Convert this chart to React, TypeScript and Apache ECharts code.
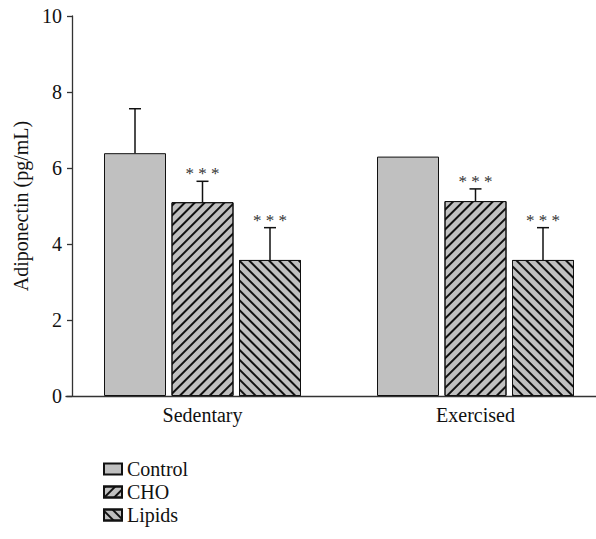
import React, { useEffect, useRef } from 'react';
import * as echarts from 'echarts';

const categories = ['Sedentary', 'Exercised'];
const seriesNames = ['Control', 'CHO', 'Lipids'];
const controlMeans = [6.39, 6.3];
const controlErr = [1.17, 0];
const choMeans = [5.1, 5.13];
const choErr = [0.55, 0.32];
const lipidsMeans = [3.58, 3.58];
const lipidsErr = [0.85, 0.85];
const controlMarks = ['', ''];
const choMarks = ['***', '***'];
const lipidsMarks = ['***', '***'];
const yMin = 0;
const yMax = 10;
const yStep = 2;

const FONT = "'Liberation Serif', 'Times New Roman', serif";
const BAR_W = 62;
const BAR_GAP = 5.5;
const FILL = '#c0c0c0';
const INK = '#111';

function hatch(rotation: number) {
  return {
    symbol: 'rect',
    symbolSize: 1,
    dashArrayX: [1, 0],
    dashArrayY: [1.3, 4.4],
    rotation,
    color: INK,
  };
}

function barSeries(name: string, values: number[], decal: any) {
  return {
    type: 'bar',
    name,
    data: values,
    barWidth: BAR_W,
    barGap: (BAR_GAP / BAR_W) * 100 + '%',
    itemStyle: {
      color: FILL,
      borderColor: INK,
      borderWidth: 1,
      ...(decal ? { decal } : {}),
    },
    emphasis: { disabled: true },
    z: 2,
  };
}

function errSeries(idx: number, means: number[], errs: number[], marks: string[]) {
  return {
    type: 'custom',
    name: 'err-' + seriesNames[idx],
    data: means.map((m, i) => [i, m, errs[i]]),
    z: 5,
    silent: true,
    renderItem: (params: any, api: any) => {
      const cat = api.value(0);
      const m = api.value(1);
      const e = api.value(2);
      const base = api.coord([cat, m]);
      const top = api.coord([cat, m + e]);
      const x = base[0] + (idx - 1) * (BAR_W + BAR_GAP);
      const children: any[] = [];
      if (e > 0) {
        children.push({
          type: 'line',
          shape: { x1: x, y1: base[1], x2: x, y2: top[1] },
          style: { stroke: INK, lineWidth: 1.5 },
        });
        children.push({
          type: 'line',
          shape: { x1: x - 6, y1: top[1], x2: x + 6, y2: top[1] },
          style: { stroke: INK, lineWidth: 1.5 },
        });
      }
      const mark = marks[params.dataIndex];
      if (mark) {
        children.push({
          type: 'text',
          x,
          y: top[1] + 1,
          style: {
            text: mark.split('').join(' '),
            fontSize: 17,
            fontFamily: FONT,
            fill: '#333',
            align: 'center',
            verticalAlign: 'bottom',
          },
        });
      }
      return { type: 'group', children };
    },
  };
}

export default function App() {
  const ref = useRef<HTMLDivElement>(null);
  useEffect(() => {
    if (!ref.current) return;
    const chart = echarts.init(ref.current, undefined, { renderer: 'svg' });
    chart.setOption({
      animation: false,
      backgroundColor: '#fff',
      textStyle: { fontFamily: FONT },
      grid: {
        left: 66,
        top: 16,
        width: 546,
        height: 380,
        containLabel: false,
        outerBoundsMode: 'none',
      },
      legend: {
        data: seriesNames,
        orient: 'vertical',
        left: 103,
        top: 459,
        padding: 0,
        itemWidth: 18,
        itemHeight: 11,
        itemGap: 3,
        icon: 'rect',
        textStyle: { fontSize: 20, color: INK, fontFamily: FONT },
        selectedMode: false,
      },
      xAxis: {
        type: 'category',
        data: categories,
        axisTick: { show: false },
        axisLine: { lineStyle: { color: '#333', width: 1.3 } },
        axisLabel: { fontSize: 20, color: INK, margin: 9, fontFamily: FONT },
        splitLine: { show: false },
      },
      yAxis: {
        type: 'value',
        min: yMin,
        max: yMax,
        interval: yStep,
        offset: -6,
        name: 'Adiponectin (pg/mL)',
        nameLocation: 'middle',
        nameGap: 39,
        nameTextStyle: { fontSize: 20, color: INK, fontFamily: FONT },
        axisLine: { show: true, lineStyle: { color: '#333', width: 1.3 } },
        axisTick: { show: true, length: 5, inside: false, lineStyle: { color: '#333', width: 1.3 } },
        axisLabel: { fontSize: 20, color: INK, margin: 10, fontFamily: FONT },
        splitLine: { show: false },
      },
      series: [
        barSeries('Control', controlMeans, null),
        barSeries('CHO', choMeans, hatch(-Math.PI / 4)),
        barSeries('Lipids', lipidsMeans, hatch(Math.PI / 4)),
        errSeries(0, controlMeans, controlErr, controlMarks),
        errSeries(1, choMeans, choErr, choMarks),
        errSeries(2, lipidsMeans, lipidsErr, lipidsMarks),
      ],
    });
    return () => chart.dispose();
  }, []);
  return (
    <div
      ref={ref}
      style={{ position: 'fixed', left: 0, top: 0, width: 596, height: 539, background: '#fff' }}
    />
  );
}
